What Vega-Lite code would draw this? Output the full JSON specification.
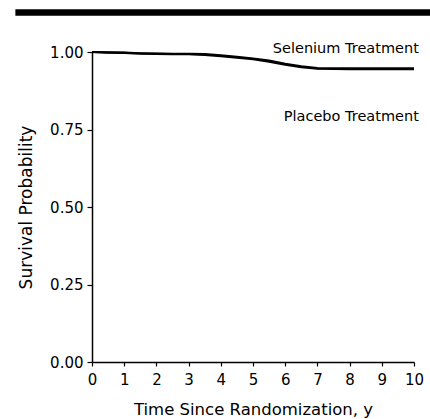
{
  "$schema": "https://vega.github.io/schema/vega-lite/v6.json",
  "autosize": {"type": "none"},
  "width": 322,
  "height": 310,
  "padding": {"left": 92, "top": 52, "right": 16, "bottom": 57},
  "background": "white",
  "config": {"view": {"stroke": null}, "font": "DejaVu Sans", "axis": {"labelOverlap": false}},
  "datasets": {
    "curves": [
      {"t": 0, "s": 1.0, "g": "Selenium"},
      {"t": 0.5, "s": 0.999, "g": "Selenium"},
      {"t": 1, "s": 0.998, "g": "Selenium"},
      {"t": 1.5, "s": 0.996, "g": "Selenium"},
      {"t": 2, "s": 0.995, "g": "Selenium"},
      {"t": 2.5, "s": 0.994, "g": "Selenium"},
      {"t": 3, "s": 0.994, "g": "Selenium"},
      {"t": 3.5, "s": 0.993, "g": "Selenium"},
      {"t": 4, "s": 0.989, "g": "Selenium"},
      {"t": 4.5, "s": 0.984, "g": "Selenium"},
      {"t": 5, "s": 0.979, "g": "Selenium"},
      {"t": 5.5, "s": 0.972, "g": "Selenium"},
      {"t": 6, "s": 0.962, "g": "Selenium"},
      {"t": 6.5, "s": 0.954, "g": "Selenium"},
      {"t": 7, "s": 0.948, "g": "Selenium"},
      {"t": 8, "s": 0.947, "g": "Selenium"},
      {"t": 9, "s": 0.947, "g": "Selenium"},
      {"t": 10, "s": 0.947, "g": "Selenium"},
      {"t": 0, "s": 1.0, "g": "Placebo"},
      {"t": 0.5, "s": 0.998, "g": "Placebo"},
      {"t": 1, "s": 0.997, "g": "Placebo"},
      {"t": 1.5, "s": 0.995, "g": "Placebo"},
      {"t": 2, "s": 0.994, "g": "Placebo"},
      {"t": 2.5, "s": 0.993, "g": "Placebo"},
      {"t": 3, "s": 0.993, "g": "Placebo"},
      {"t": 3.5, "s": 0.991, "g": "Placebo"},
      {"t": 4, "s": 0.987, "g": "Placebo"},
      {"t": 4.5, "s": 0.982, "g": "Placebo"},
      {"t": 5, "s": 0.977, "g": "Placebo"},
      {"t": 5.5, "s": 0.969, "g": "Placebo"},
      {"t": 6, "s": 0.959, "g": "Placebo"},
      {"t": 6.5, "s": 0.951, "g": "Placebo"},
      {"t": 7, "s": 0.946, "g": "Placebo"},
      {"t": 8, "s": 0.945, "g": "Placebo"},
      {"t": 9, "s": 0.945, "g": "Placebo"},
      {"t": 10, "s": 0.945, "g": "Placebo"}
    ],
    "labels": [
      {"t": 10.15, "s": 1.01, "label": "Selenium Treatment"},
      {"t": 10.15, "s": 0.79, "label": "Placebo Treatment"}
    ],
    "bar": [
      {"t": -2.38, "t2": 10.6, "s": 1.117, "s2": 1.138}
    ]
  },
  "encoding": {
    "x": {
      "field": "t", "type": "quantitative",
      "scale": {"domain": [0, 10], "nice": false, "zero": false},
      "axis": {
        "title": "Time Since Randomization, y",
        "values": [0, 1, 2, 3, 4, 5, 6, 7, 8, 9, 10],
        "format": "d",
        "labelOverlap": false, "labelFlush": false,
        "grid": false, "domainColor": "black", "domainWidth": 1.5,
        "tickColor": "black", "tickSize": 4, "tickWidth": 1.2,
        "labelFontSize": 15, "labelColor": "black", "labelPadding": 6,
        "titleFontSize": 16.5, "titleFontWeight": "normal", "titleColor": "black",
        "titlePadding": 14
      }
    },
    "y": {
      "field": "s", "type": "quantitative",
      "scale": {"domain": [0, 1], "nice": false},
      "axis": {
        "title": "Survival Probability",
        "values": [0, 0.25, 0.5, 0.75, 1],
        "format": ".2f",
        "labelOverlap": false, "labelFlush": false,
        "grid": false, "domainColor": "black", "domainWidth": 1.5,
        "tickColor": "black", "tickSize": 5, "tickWidth": 1.2,
        "labelFontSize": 15, "labelColor": "black", "labelPadding": 4,
        "titleFontSize": 17, "titleFontWeight": "normal", "titleColor": "black",
        "titlePadding": 14
      }
    }
  },
  "layer": [
    {
      "data": {"name": "curves"},
      "mark": {"type": "line", "color": "black", "strokeWidth": 2.2, "clip": false},
      "encoding": {
        "detail": {"field": "g", "type": "nominal"}
      }
    },
    {
      "data": {"name": "labels"},
      "mark": {"type": "text", "align": "right", "baseline": "middle", "fontSize": 14.5, "color": "black", "clip": false},
      "encoding": {
        "text": {"field": "label"}
      }
    },
    {
      "data": {"name": "bar"},
      "mark": {"type": "rect", "color": "black", "clip": false},
      "encoding": {
        "x2": {"field": "t2"},
        "y2": {"field": "s2"}
      }
    }
  ]
}
